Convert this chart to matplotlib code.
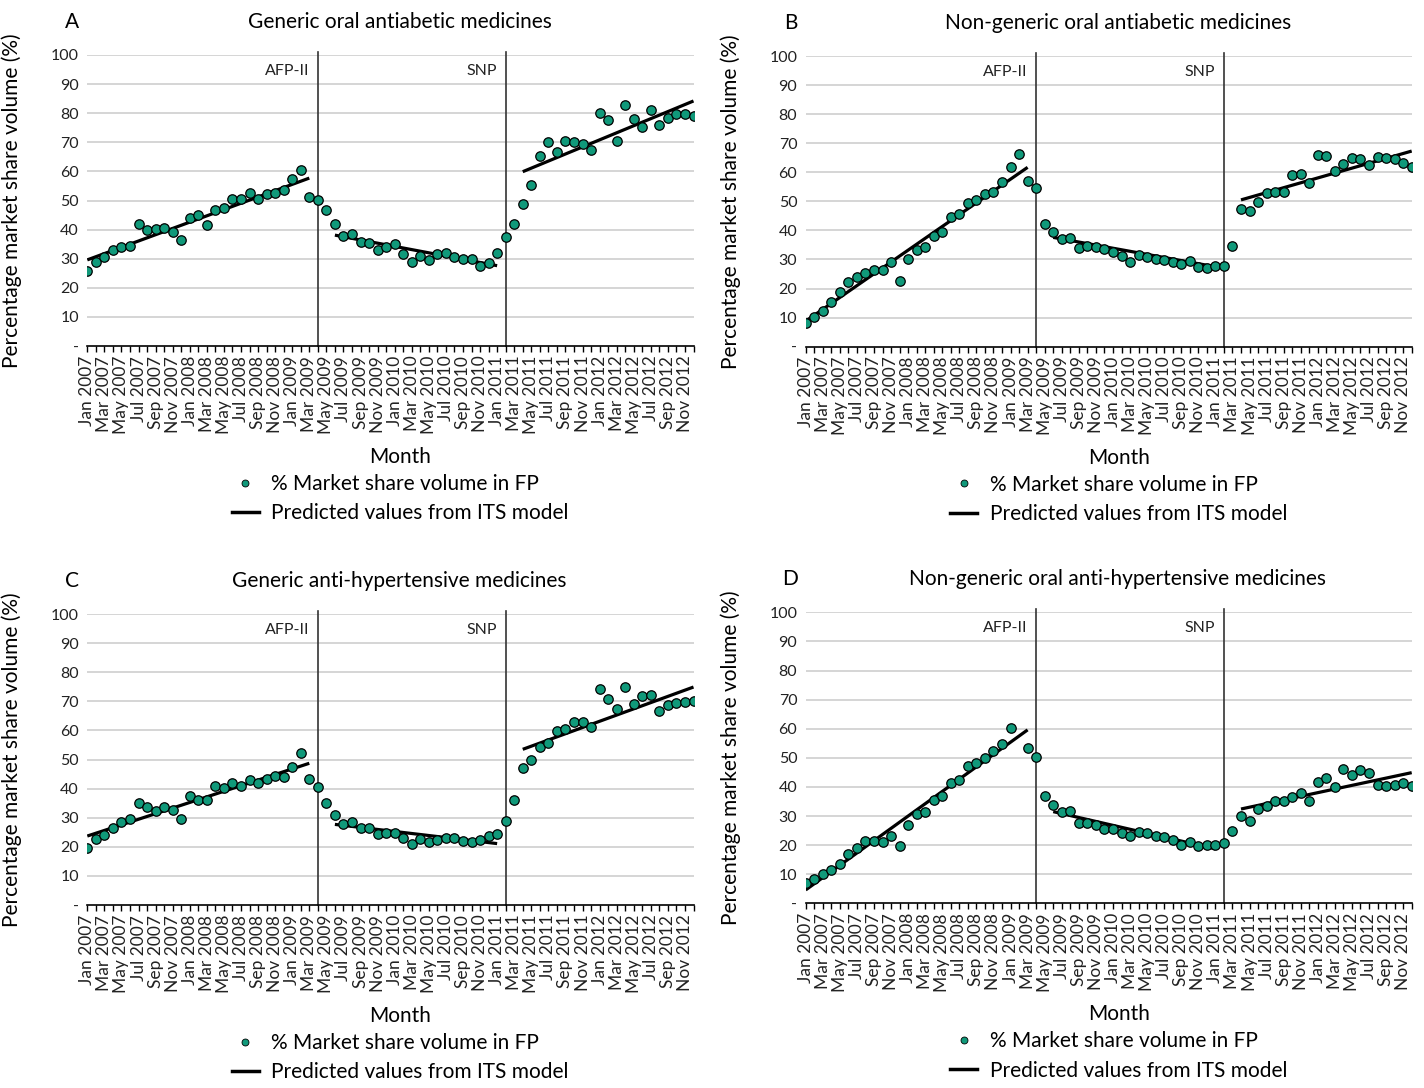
import numpy as np
import matplotlib
matplotlib.use("Agg")
import matplotlib.pyplot as plt
from matplotlib.lines import Line2D

plt.rcParams['font.family'] = ['Lato', 'DejaVu Sans']

# month labels Jan 2007 .. Dec 2012 (72 months)
MONTHS = ["Jan", "Feb", "Mar", "Apr", "May", "Jun",
          "Jul", "Aug", "Sep", "Oct", "Nov", "Dec"]
month_labels = [f"{m} {y}" for y in range(2007, 2013) for m in MONTHS]

# interventions (month index)
afp_month = 27   # Apr 2009
snp_month = 49   # Feb 2011

# segments of the ITS model (start month, end month)
seg_bounds = [(0, 26), (29, 48), (51, 71)]

# % market share volume in FP
share_A = [25.9, 28.9, 30.5, 32.9, 34.1, 34.4, 42.0, 39.9, 40.2, 40.4, 39.3, 36.3,
           44.1, 45.0, 41.7, 46.9, 47.3, 50.5, 50.4, 52.7, 50.4, 52.3, 52.7, 53.7,
           57.3, 60.4, 51.2, 50.1, 46.7, 42.0, 37.7, 38.6, 35.6, 35.4, 32.9, 34.1,
           34.9, 31.6, 29.0, 30.8, 29.7, 31.6, 32.0, 30.6, 29.9, 29.9, 27.6, 28.5,
           31.8, 37.6, 41.9, 48.9, 55.3, 65.4, 70.2, 66.7, 70.4, 70.2, 69.4, 67.5,
           80.1, 77.6, 70.3, 82.9, 78.0, 75.1, 81.1, 75.8, 78.2, 79.7, 79.7, 79.2]

share_B = [8.3, 10.3, 12.2, 15.3, 18.7, 22.2, 24.1, 25.5, 26.4, 26.4, 29.1, 22.6,
           30.0, 33.1, 34.2, 38.0, 39.4, 44.6, 45.5, 49.3, 50.3, 52.4, 53.3, 56.8,
           61.7, 66.3, 57.1, 54.6, 42.1, 39.3, 37.0, 37.5, 34.1, 34.7, 34.3, 33.5,
           32.7, 31.2, 29.2, 31.4, 30.8, 30.2, 29.9, 29.0, 28.3, 29.4, 27.4, 27.2,
           27.9, 27.9, 34.6, 47.2, 46.6, 49.8, 53.0, 53.1, 53.3, 59.2, 59.5, 56.2,
           65.8, 65.5, 60.4, 63.0, 64.8, 64.7, 62.5, 65.4, 64.8, 64.4, 63.3, 61.9]

share_C = [19.6, 22.6, 23.9, 26.5, 28.5, 29.4, 34.9, 33.8, 32.4, 33.7, 32.8, 29.4,
           37.6, 36.1, 36.1, 40.9, 40.1, 42.0, 41.0, 43.0, 41.8, 43.4, 44.3, 43.9,
           47.3, 52.2, 43.4, 40.6, 35.2, 30.9, 27.7, 28.4, 26.3, 26.3, 24.4, 24.9,
           24.7, 23.1, 21.1, 22.8, 21.5, 22.2, 22.9, 23.0, 22.1, 21.8, 22.2, 23.8,
           24.4, 29.0, 36.1, 47.1, 49.8, 54.2, 55.7, 59.9, 60.6, 62.8, 62.8, 61.1,
           74.1, 70.8, 67.2, 74.9, 69.2, 71.9, 72.3, 66.7, 68.8, 69.3, 69.6, 70.1]

share_D = [7.1, 8.5, 10.1, 11.3, 13.6, 17.1, 19.1, 21.5, 21.4, 21.1, 23.1, 19.8,
           26.9, 30.6, 31.3, 35.5, 36.8, 41.5, 42.5, 47.2, 48.1, 49.8, 52.5, 54.8,
           60.4, np.nan, 53.3, 50.4, 37.0, 33.8, 31.4, 31.6, 27.5, 27.5, 26.9, 25.7,
           25.5, 24.2, 23.1, 24.6, 24.2, 23.1, 22.9, 21.9, 20.0, 21.1, 19.6, 20.0,
           20.0, 20.6, 25.0, 30.0, 28.4, 32.5, 33.3, 35.3, 35.0, 36.5, 38.0, 35.3,
           41.7, 42.9, 40.1, 46.3, 44.0, 45.7, 44.8, 40.7, 40.4, 40.5, 41.5, 40.4]

# predicted values from ITS model (start, end) for each segment
trend_A = [(29.6, 57.7), (38.1, 27.6), (59.9, 84.2)]
trend_B = [(8.8, 61.7), (37.6, 27.5), (50.5, 67.3)]
trend_C = [(23.7, 48.7), (27.7, 21.1), (53.5, 74.9)]
trend_D = [(4.6, 59.6), (31.5, 18.7), (32.4, 44.9)]

letters = ["A", "B", "C", "D"]
titles = ["Generic oral antiabetic medicines",
          "Non-generic oral antiabetic medicines",
          "Generic anti-hypertensive medicines",
          "Non-generic oral anti-hypertensive medicines"]

green = "#10997a"
W, H = 1424, 1088

fig = plt.figure(figsize=(W / 100, H / 100), dpi=100)

# axes boxes in pixels: left, right, top(100), bottom(0)
boxes = [(87.3, 693.5, 55, 346), (805.7, 1411.7, 56, 346.7),
         (87.3, 693.5, 614, 905), (805.7, 1411.7, 612.3, 903.3)]
shares = [share_A, share_B, share_C, share_D]
trends = [trend_A, trend_B, trend_C, trend_D]

x = np.arange(len(month_labels))

for i in range(4):
    l, r, t, b = boxes[i]
    ax = fig.add_axes([l / W, 1 - b / H, (r - l) / W, (b - t) / H])

    # grid
    for yv in range(10, 101, 10):
        ax.axhline(yv, color="#d2d2d2", lw=1.3, zorder=0)

    # intervention lines
    for xv, lab in [(afp_month, "AFP-II"), (snp_month, "SNP")]:
        ax.plot([xv, xv], [0, 101], color="#333333", lw=1.2, zorder=1, clip_on=False)
        ax.text(xv - 1.0, 94.5, lab, ha="right", va="center", fontsize=11.5, color="#222222")

    # trend lines
    for (s, e), (v0, v1) in zip(seg_bounds, trends[i]):
        ax.plot([s, e], [v0, v1], color="black", lw=2.3, zorder=2,
                solid_capstyle="butt")

    # points
    ax.plot(x, shares[i], "o", ms=6.8, mfc=green, mec="black", mew=0.9,
            ls="none", zorder=3)

    ax.set_xlim(0, 71)
    ax.set_ylim(0, 100)
    ax.set_yticks(range(0, 101, 10))
    ax.set_yticklabels(["-"] + [str(v) for v in range(10, 101, 10)])
    ax.set_xticks(x)
    ax.set_xticklabels([lab if k % 2 == 0 else "" for k, lab in enumerate(month_labels)],
                       rotation=90)
    ax.tick_params(axis="y", length=0, labelsize=11.5, labelcolor="#222222", pad=6)
    ax.tick_params(axis="x", direction="out", length=4, width=1, labelsize=12.5,
                   labelcolor="#222222", pad=3)
    for sp in ["top", "right", "left"]:
        ax.spines[sp].set_visible(False)
    ax.spines["bottom"].set_linewidth(1.2)

    ax.set_ylabel("Percentage market share volume (%)", fontsize=15)
    ax.yaxis.set_label_coords(-0.107, 0.5)

    # titles
    ax.text(-0.025, 1.113, letters[i], transform=ax.transAxes, fontsize=15,
            ha="center", va="center")
    ax.text(0.515, 1.113, titles[i], transform=ax.transAxes, fontsize=15,
            ha="center", va="center")

    # x label and legend
    cx = (l + r) / 2 + 10
    fig.text(cx / W, 1 - (b + 111) / H, "Month", ha="center", va="center", fontsize=15)
    handles = [Line2D([], [], ls="none", marker="o", ms=5, mfc=green, mec="black", mew=0.6),
               Line2D([], [], color="black", lw=2.5)]
    ax.legend(handles, ["% Market share volume in FP", "Predicted values from ITS model"],
              loc="upper center", bbox_to_anchor=(cx / W, 1 - (b + 128) / H),
              bbox_transform=fig.transFigure, frameon=False, fontsize=15,
              handlelength=1.3, handletextpad=0.6, labelspacing=0.45,
              borderpad=0, borderaxespad=0)

fig.savefig("out.png", dpi=100)
